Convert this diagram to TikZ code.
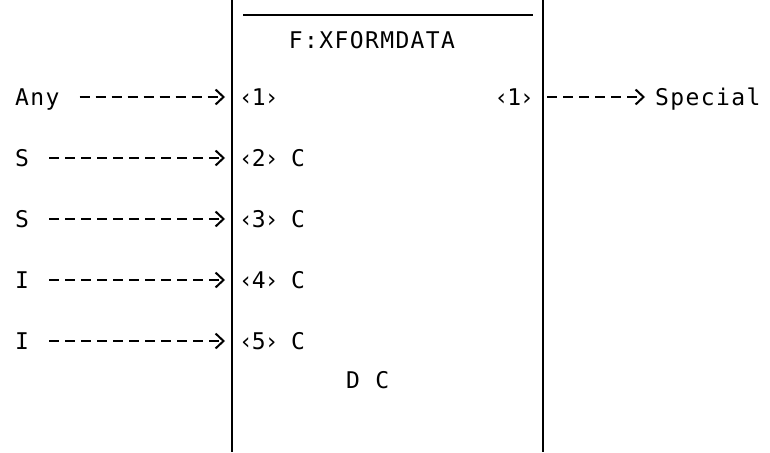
\documentclass[tikz,border=0pt]{standalone}
\usepackage{fontspec}
\newfontfamily\maqfont[LetterSpace=6]{DejaVu Sans Mono}
\newfontfamily\puertofont[LetterSpace=-5]{DejaVu Sans Mono}
\usetikzlibrary{arrows.meta,positioning}

\begin{document}
\begin{tikzpicture}[
  x=1pt, y=-1pt,
  etiq/.style={inner sep=0pt, anchor=base west, text height=17pt, text depth=0pt, font={\fontsize{23}{28}\maqfont}},
  puerto/.style={etiq, font={\fontsize{23}{28}\puertofont}},
  borde/.style={line width=2pt},
  flecha/.style={line width=2pt, dash pattern=on 10pt off 6pt, -{Straight Barb[length=8pt,width=15pt]}}
]
\useasboundingbox (0,0) rectangle (770,452);
% caja de la funcion
\draw[borde] (232,0) -- (232,452);
\draw[borde] (543,0) -- (543,452);
\draw[line width=1.5pt] (243,15) -- (533,15);
\node[etiq, anchor=base] (titulo) at (372,48.5) {F:XFORMDATA};
% entradas
\foreach \i/\fuente/\pto in {1/Any/{‹1›}, 2/S/{‹2› C}, 3/S/{‹3› C}, 4/I/{‹4› C}, 5/I/{‹5› C}}{
  \node[puerto] (ent\i) at (239,{44.5+61*\i}) {\pto};
  \node[etiq] (src\i) at (15,{44.5+61*\i}) {\fuente};
  \draw[flecha, shorten <=20pt, shorten >=14pt] (src\i.east) -- (ent\i.west);
}
% salida
\node[puerto, anchor=base east] (sal1) at (534,105.5) {‹1›};
\node[etiq] (dst1) at (655,105.5) {Special};
\draw[flecha, shorten <=13pt, shorten >=10pt] (sal1.east) -- (dst1.west);
\node[etiq] (dc) at (346,388.5) {D C};
\end{tikzpicture}
\end{document}
